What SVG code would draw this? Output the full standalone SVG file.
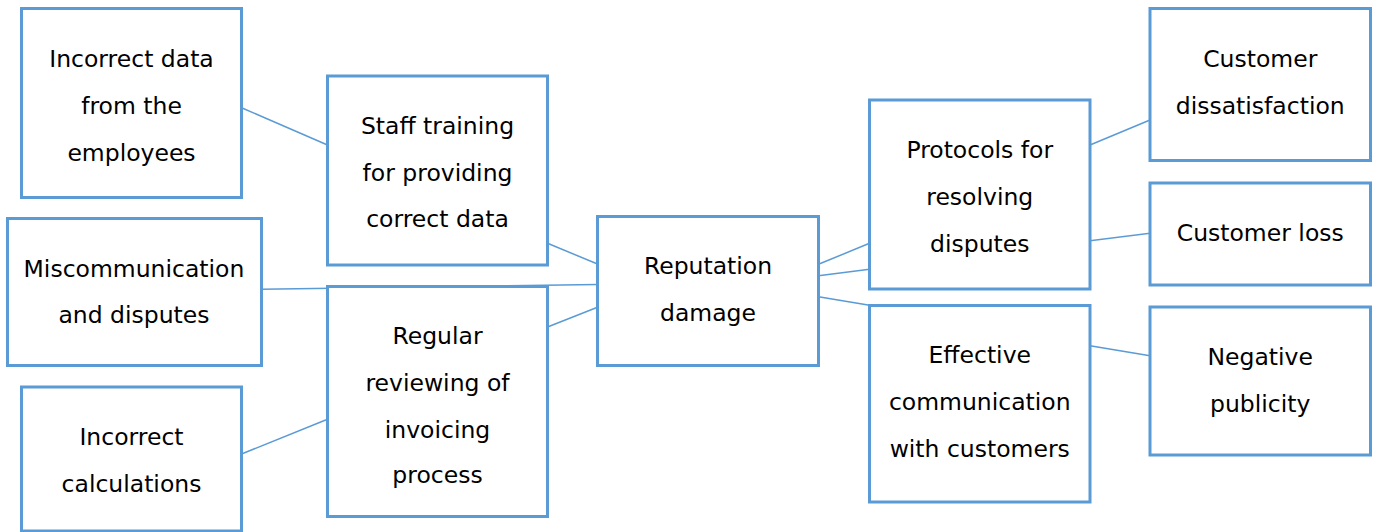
<svg xmlns="http://www.w3.org/2000/svg" width="1381" height="532" viewBox="0 0 1381 532">
<style>
.box{fill:#ffffff;stroke:#5B9BD5;stroke-width:3}
.con line{stroke:#5B9BD5;stroke-width:1.5}
text{font-family:"DejaVu Sans","Liberation Sans",sans-serif;font-size:23.5px;fill:#000000;text-anchor:middle}
</style>
<rect width="1381" height="532" fill="#ffffff"/>
<g id="connectors" class="con">
<line x1="241.5" y1="107.7" x2="327.5" y2="145"/>
<line x1="547.5" y1="243.3" x2="597.5" y2="264"/>
<line x1="261.5" y1="289.3" x2="597.5" y2="284.5"/>
<line x1="547.5" y1="327" x2="597.5" y2="307.3"/>
<line x1="241.5" y1="454" x2="327.5" y2="419.3"/>
<line x1="818.5" y1="264.3" x2="869.5" y2="243.3"/>
<line x1="818.5" y1="275.7" x2="869.5" y2="269.3"/>
<line x1="818.5" y1="296.7" x2="869.5" y2="305.3"/>
<line x1="1090" y1="145" x2="1150" y2="120"/>
<line x1="1090" y1="240.7" x2="1150" y2="233.3"/>
<line x1="1090" y1="345.7" x2="1150" y2="355.7"/>
</g>
<g id="incorrect-data">
<rect class="box" x="21.5" y="8.5" width="220" height="189"/>
<text x="131.5" y="67.3">Incorrect data</text>
<text x="131.5" y="114.3">from the</text>
<text x="131.5" y="161">employees</text>
</g>
<g id="staff-training">
<rect class="box" x="327.5" y="76" width="220" height="189"/>
<text x="437.5" y="134">Staff training</text>
<text x="437.5" y="180.7">for providing</text>
<text x="437.5" y="227.3">correct data</text>
</g>
<g id="miscommunication">
<rect class="box" x="7.5" y="218.5" width="254" height="147"/>
<text x="134" y="276.7">Miscommunication</text>
<text x="134" y="322.7">and disputes</text>
</g>
<g id="regular-reviewing">
<rect class="box" x="327.5" y="286.5" width="220" height="230"/>
<text x="437.5" y="344.3">Regular</text>
<text x="437.5" y="391">reviewing of</text>
<text x="437.5" y="437.7">invoicing</text>
<text x="437.5" y="483.3">process</text>
</g>
<g id="incorrect-calculations">
<rect class="box" x="21.5" y="387" width="220" height="144"/>
<text x="131.5" y="445">Incorrect</text>
<text x="131.5" y="492.3">calculations</text>
</g>
<g id="reputation-damage">
<rect class="box" x="597.5" y="216.5" width="221" height="149"/>
<text x="708" y="274">Reputation</text>
<text x="708" y="320.7">damage</text>
</g>
<g id="protocols">
<rect class="box" x="869.5" y="100" width="220.5" height="189"/>
<text x="979.75" y="158.3">Protocols for</text>
<text x="979.75" y="205">resolving</text>
<text x="979.75" y="251.7">disputes</text>
</g>
<g id="effective-communication">
<rect class="box" x="869.5" y="305.5" width="220.5" height="196.5"/>
<text x="979.75" y="363.3">Effective</text>
<text x="979.75" y="410">communication</text>
<text x="979.75" y="456.7">with customers</text>
</g>
<g id="customer-dissatisfaction">
<rect class="box" x="1150" y="8.5" width="220.5" height="152"/>
<text x="1260.25" y="66.7">Customer</text>
<text x="1260.25" y="114.3">dissatisfaction</text>
</g>
<g id="customer-loss">
<rect class="box" x="1150" y="183" width="220.5" height="102"/>
<text x="1260.25" y="240.7">Customer loss</text>
</g>
<g id="negative-publicity">
<rect class="box" x="1150" y="307" width="220.5" height="148"/>
<text x="1260.25" y="365">Negative</text>
<text x="1260.25" y="411.7">publicity</text>
</g>
</svg>
